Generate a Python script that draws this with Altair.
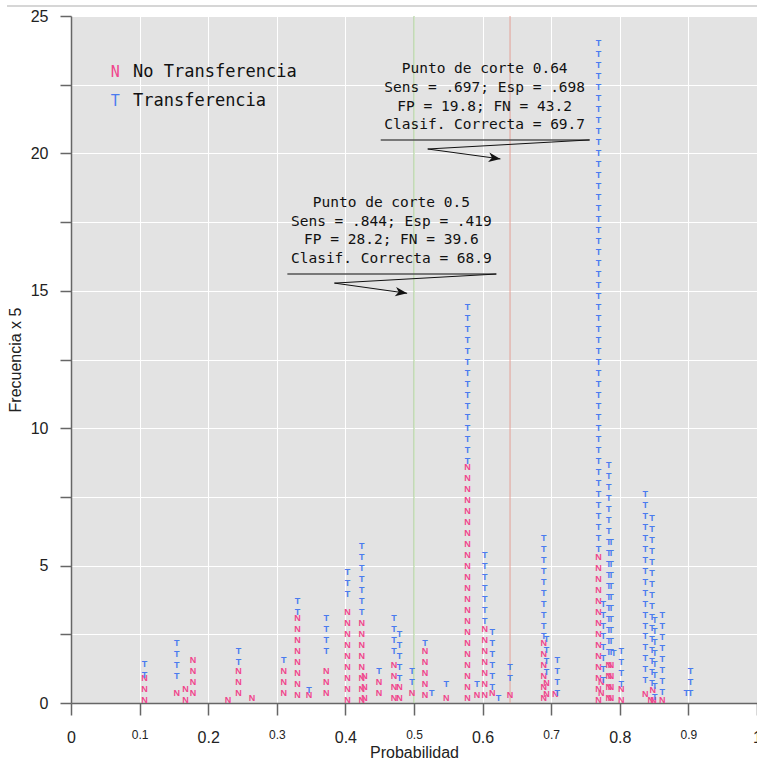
import altair as alt
import pandas as pd

# Colores de las dos clases observadas
ROSA = "#F0468C"
AZUL = "#4A7BEF"
VERDE_CORTE = "#A4CB8E"
ROJO_CORTE = "#E3A097"

# Cada caso ocupa 0.4 en el eje "Frecuencia x 5"
PASO = 0.4

# Casos de No Transferencia (N): probabilidad predicha, frecuencia del primer
# símbolo de la columna y número de casos apilados
prob_N = [0.107, 0.154, 0.167, 0.178, 0.229, 0.244, 0.264, 0.310, 0.330, 0.347,
          0.372, 0.403, 0.424, 0.428, 0.449, 0.471, 0.479, 0.497, 0.516, 0.547,
          0.578, 0.592, 0.603, 0.614, 0.640, 0.689, 0.693, 0.706, 0.769, 0.773,
          0.784, 0.787, 0.802, 0.837, 0.845, 0.848, 0.849, 0.862]
inicio_N = [0.10, 0.38, 0.10, 0.38, 0.10, 0.38, 0.18, 0.38, 0.30, 0.30,
            0.36, 0.10, 0.10, 0.18, 0.38, 0.18, 0.18, 0.38, 0.28, 0.18,
            0.18, 0.30, 0.28, 0.38, 0.30, 0.18, 0.32, 0.34, 0.10, 0.38,
            0.18, 0.18, 0.10, 0.34, 0.10, 0.47, 0.10, 0.10]
casos_N = [3, 1, 2, 4, 1, 3, 1, 3, 8, 1,
           3, 9, 8, 3, 2, 4, 2, 1, 5, 1,
           22, 1, 7, 1, 1, 6, 2, 1, 14, 2,
           4, 4, 2, 1, 1, 1, 1, 1]

# Casos de Transferencia (T)
prob_T = [0.107, 0.154, 0.244, 0.310, 0.330, 0.347, 0.372, 0.403, 0.424, 0.449,
          0.471, 0.479, 0.497, 0.516, 0.526, 0.547, 0.578, 0.592, 0.603, 0.614,
          0.623, 0.640, 0.689, 0.693, 0.709, 0.769, 0.776, 0.784, 0.787, 0.791,
          0.802, 0.837, 0.847, 0.851, 0.862, 0.897, 0.903]
inicio_T = [1.02, 0.98, 1.50, 1.58, 3.30, 0.48, 1.88, 3.98, 3.30, 1.18,
            1.88, 0.90, 0.78, 2.18, 0.38, 0.68, 8.82, 0.68, 2.98, 0.58,
            0.18, 0.90, 2.42, 1.12, 0.38, 5.62, 0.82, 1.86, 1.86, 1.82,
            0.70, 0.82, 0.74, 0.22, 0.41, 0.38, 0.38]
casos_T = [2, 4, 2, 1, 2, 1, 4, 3, 7, 1,
           4, 5, 2, 1, 1, 1, 15, 1, 7, 6,
           1, 2, 10, 4, 4, 47, 8, 18, 11, 1,
           4, 18, 16, 8, 8, 1, 3]

# Puntos de corte marcados con líneas verticales
cortes = [0.5, 0.64]
colores_corte = [VERDE_CORTE, ROJO_CORTE]

# Recuadros de texto con los índices de clasificación
texto_064 = ["Punto de corte 0.64", "Sens = .697; Esp = .698",
             "FP = 19.8; FN = 43.2", "Clasif. Correcta = 69.7"]
texto_050 = ["Punto de corte 0.5", "Sens = .844; Esp = .419",
             "FP = 28.2; FN = 39.6", "Clasif. Correcta = 68.9"]
centro_x_064, lineas_y_064 = 0.603, [23.06, 22.38, 21.70, 21.02]
centro_x_050, lineas_y_050 = 0.467, [18.21, 17.52, 16.84, 16.16]

# Flechas: subrayado (x inicial, x final, y) y trazo hasta la punta
subrayados = [(0.4515, 0.756, 20.49), (0.3154, 0.620, 15.61)]
trazos = [
    [(0.756, 20.49), (0.520, 20.16), (0.626, 19.80)],
    [(0.620, 15.61), (0.384, 15.28), (0.490, 14.91)],
]

# Leyenda
leyenda_clase = ["N", "T"]
leyenda_texto = ["No Transferencia", "Transferencia"]
leyenda_y = [22.96, 21.90]
leyenda_x_simbolo, leyenda_x_texto = 0.0644, 0.0904

x_ticks = [0, 0.1, 0.2, 0.3, 0.4, 0.5, 0.6, 0.7, 0.8, 0.9, 1.0]
y_ticks = [0, 2.5, 5, 7.5, 10, 12.5, 15, 17.5, 20, 22.5, 25]

# ---- tablas ----
filas = []
for clase, xs, ys, ns in (("N", prob_N, inicio_N, casos_N),
                          ("T", prob_T, inicio_T, casos_T)):
    for x, y0, n in zip(xs, ys, ns):
        for i in range(n):
            filas.append({"prob": x, "frec": round(y0 + PASO * i, 3), "clase": clase})
simbolos = pd.DataFrame(filas)

anot = pd.DataFrame(
    [{"x": centro_x_064, "y": y, "t": t} for y, t in zip(lineas_y_064, texto_064)]
    + [{"x": centro_x_050, "y": y, "t": t} for y, t in zip(lineas_y_050, texto_050)]
)
subr = pd.DataFrame([{"x": a, "x2": b, "y": y} for a, b, y in subrayados])
tr = pd.DataFrame([{"g": g, "o": o, "x": p[0], "y": p[1]}
                   for g, pts in enumerate(trazos) for o, p in enumerate(pts)])
puntas = pd.DataFrame([{"x": pts[-1][0], "y": pts[-1][1]} for pts in trazos])
ley = pd.DataFrame({"clase": leyenda_clase, "texto": leyenda_texto, "y": leyenda_y,
                    "xs": [leyenda_x_simbolo] * 2, "xt": [leyenda_x_texto] * 2})

SANS = "Liberation Sans, Arial, sans-serif"
MONO = "DejaVu Sans Mono, monospace"

xs = alt.Scale(domain=[0, 1], nice=False, zero=False)
ys = alt.Scale(domain=[0, 25], nice=False, zero=False)
colores = alt.Scale(domain=["N", "T"], range=[ROSA, AZUL])

x_axis = alt.Axis(
    values=x_ticks, title="Probabilidad",
    labelExpr="datum.value == 0 ? '0' : (datum.value == 1 ? '1' : format(datum.value, '.1f'))",
    labelFontSize={"condition": {"test": "round(datum.value * 10) % 2 == 1", "value": 12},
                   "value": 16},
    labelFont=SANS, labelColor="#222222", labelPadding=14, labelFlush=False,
    labelOverlap=False,
    tickSize=12, tickColor="#666666", tickWidth=1.5,
    domainColor="#666666", domainWidth=1.5,
    grid=True, gridColor="white", gridWidth=1,
    titleFont=SANS, titleFontSize=16, titleFontWeight="normal", titleColor="#222222",
    titleX=343, titleY=49, titleAlign="center", titleBaseline="middle",
)
y_axis = alt.Axis(
    values=y_ticks, title="Frecuencia x 5",
    labelExpr="datum.value % 5 == 0 ? format(datum.value, 'd') : ''",
    labelFont=SANS, labelFontSize=16, labelColor="#222222", labelPadding=12,
    labelOverlap=False, labelFlush=False,
    tickSize=11, tickColor="#666666", tickWidth=1.5,
    domainColor="#666666", domainWidth=1.5,
    grid=True, gridColor="white", gridWidth=1,
    titleFont=SANS, titleFontSize=16, titleFontWeight="normal", titleColor="#222222",
    titleX=-56, titleY=343.5, titleAlign="center", titleBaseline="middle",
)

base_x = alt.X("prob:Q", scale=xs, axis=x_axis)
base_y = alt.Y("frec:Q", scale=ys, axis=y_axis)

# Líneas verticales de los puntos de corte
lineas_corte = [
    alt.Chart(pd.DataFrame({"prob": [c]})).mark_rule(color=col, strokeWidth=1)
    .encode(x=alt.X("prob:Q", scale=xs))
    for c, col in zip(cortes, colores_corte)
]

capa_simbolos = alt.Chart(simbolos).mark_text(
    font=SANS, fontSize=9, fontWeight="bold", baseline="middle", align="center"
).encode(
    x=base_x, y=base_y, text="clase:N",
    color=alt.Color("clase:N", scale=colores, legend=None),
)

capa_anot = alt.Chart(anot).mark_text(
    font=MONO, fontSize=14.5, align="center", baseline="middle", color="#111111"
).encode(x=alt.X("x:Q", scale=xs), y=alt.Y("y:Q", scale=ys), text="t:N")

capa_subr = alt.Chart(subr).mark_rule(color="#555555", strokeWidth=1.6).encode(
    x=alt.X("x:Q", scale=xs), x2="x2:Q", y=alt.Y("y:Q", scale=ys))

capa_trazos = alt.Chart(tr).mark_line(color="#111111", strokeWidth=1).encode(
    x=alt.X("x:Q", scale=xs), y=alt.Y("y:Q", scale=ys), detail="g:N", order="o:Q")

capa_puntas = alt.Chart(puntas).mark_point(
    shape="M0,0 L-1,-0.4 L-0.72,0 L-1,0.4 Z", size=560, angle=8,
    filled=True, color="#111111", opacity=1, strokeWidth=0,
).encode(x=alt.X("x:Q", scale=xs), y=alt.Y("y:Q", scale=ys))

capa_ley_sim = alt.Chart(ley).mark_text(
    font=MONO, fontSize=15, align="center", baseline="middle"
).encode(x=alt.X("xs:Q", scale=xs), y=alt.Y("y:Q", scale=ys), text="clase:N",
         color=alt.Color("clase:N", scale=colores, legend=None))

capa_ley_txt = alt.Chart(ley).mark_text(
    font=MONO, fontSize=17, align="left", baseline="middle", color="#111111"
).encode(x=alt.X("xt:Q", scale=xs), y=alt.Y("y:Q", scale=ys), text="texto:N")

linea_superior = alt.Chart(pd.DataFrame({"k": [0]})).mark_rule(
    color="#C8C8C8", strokeWidth=1.5
).encode(x=alt.value(-64), x2=alt.value(686), y=alt.value(-10))

# Las líneas de corte van debajo de los símbolos
chart = alt.layer(
    *lineas_corte, capa_simbolos, capa_anot, capa_subr,
    capa_trazos, capa_puntas, capa_ley_sim, capa_ley_txt, linea_superior,
).properties(
    width=686, height=687,
    autosize=alt.AutoSizeParams(type="none"),
    padding={"left": 71, "top": 16, "right": 0, "bottom": 60},
    background="white",
).configure_view(fill="#E3E3E3", stroke=None)

chart.save("out.html", embed_options={"renderer": "svg", "actions": False})
